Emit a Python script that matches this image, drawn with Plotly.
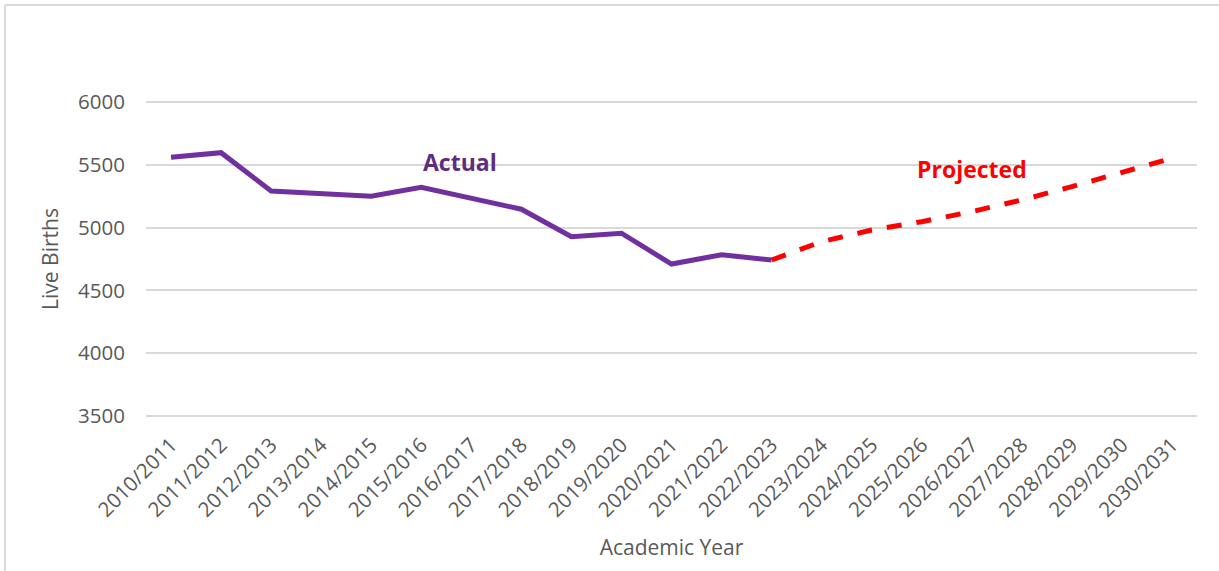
import plotly.graph_objects as go

# academic years on the x axis
years = [
    "2010/2011", "2011/2012", "2012/2013", "2013/2014", "2014/2015",
    "2015/2016", "2016/2017", "2017/2018", "2018/2019", "2019/2020",
    "2020/2021", "2021/2022", "2022/2023", "2023/2024", "2024/2025",
    "2025/2026", "2026/2027", "2027/2028", "2028/2029", "2029/2030",
    "2030/2031",
]

# actual live births up to 2022/2023
actual_years = years[:13]
actual_births = [5560, 5596, 5291, 5270, 5250, 5321, 5233, 5146, 4928, 4955, 4710, 4784, 4742]

# projected births, starting from the last actual point
projected_years = years[12:]
projected_births = [4742, 4888, 4981, 5047, 5127, 5220, 5326, 5437, 5552]

font_family = "Open Sans, Liberation Sans, sans-serif"
grey = "#595959"

fig = go.Figure()

fig.add_trace(go.Scatter(
    x=actual_years, y=actual_births,
    mode="lines",
    line=dict(color="#7030A0", width=5),
    name="Actual",
))

fig.add_trace(go.Scatter(
    x=projected_years, y=projected_births,
    mode="lines",
    line=dict(color="#FF0000", width=5, dash="dash"),
    name="Projected",
))

# text labels inside the chart
fig.add_annotation(x="2015/2016", y=5520, text="<b>Actual</b>", showarrow=False,
                   xanchor="left", font=dict(size=23, color="#5E2D7F", family=font_family))
fig.add_annotation(x="2026/2027", y=5465, text="<b>Projected</b>", showarrow=False,
                   font=dict(size=23, color="#FF0000", family=font_family))

# light frame round the chart area (top and left edges are visible)
fig.add_shape(type="line", xref="paper", yref="paper",
              x0=-0.1342, x1=1.03, y0=1.2987, y1=1.2987,
              line=dict(color="#D9D9D9", width=2))
fig.add_shape(type="line", xref="paper", yref="paper",
              x0=-0.1342, x1=-0.1342, y0=1.2987, y1=-0.6,
              line=dict(color="#D9D9D9", width=2))

fig.update_layout(
    width=1219, height=571,
    margin=dict(l=146, r=22, t=100, b=153),
    plot_bgcolor="white",
    paper_bgcolor="white",
    showlegend=False,
    font=dict(family=font_family, size=20, color=grey),
    xaxis=dict(
        categoryorder="array", categoryarray=years,
        range=[-0.5, 20.5],
        tickangle=-45,
        showgrid=False,
        showline=False,
        ticks="",
        ticklabelstandoff=10,
        tickfont=dict(size=20.5, color=grey),
        title=dict(text="Academic Year", font=dict(size=21, color=grey), standoff=18),
    ),
    yaxis=dict(
        # a little padding so the 3500 and 6000 gridlines are still drawn
        range=[3485, 6015],
        tickvals=[3500, 4000, 4500, 5000, 5500, 6000],
        showgrid=True, gridcolor="#D9D9D9", gridwidth=2,
        zeroline=False,
        showline=False,
        ticks="",
        ticklabelstandoff=20,
        tickfont=dict(size=20.5, color=grey),
        title=dict(text="Live Births", font=dict(size=21, color=grey), standoff=13),
    ),
)

# drop the default page margin so the figure sits at the window corner
fig.write_html("out.html", config={"displayModeBar": False},
               post_script="document.body.style.margin = '0px';")
